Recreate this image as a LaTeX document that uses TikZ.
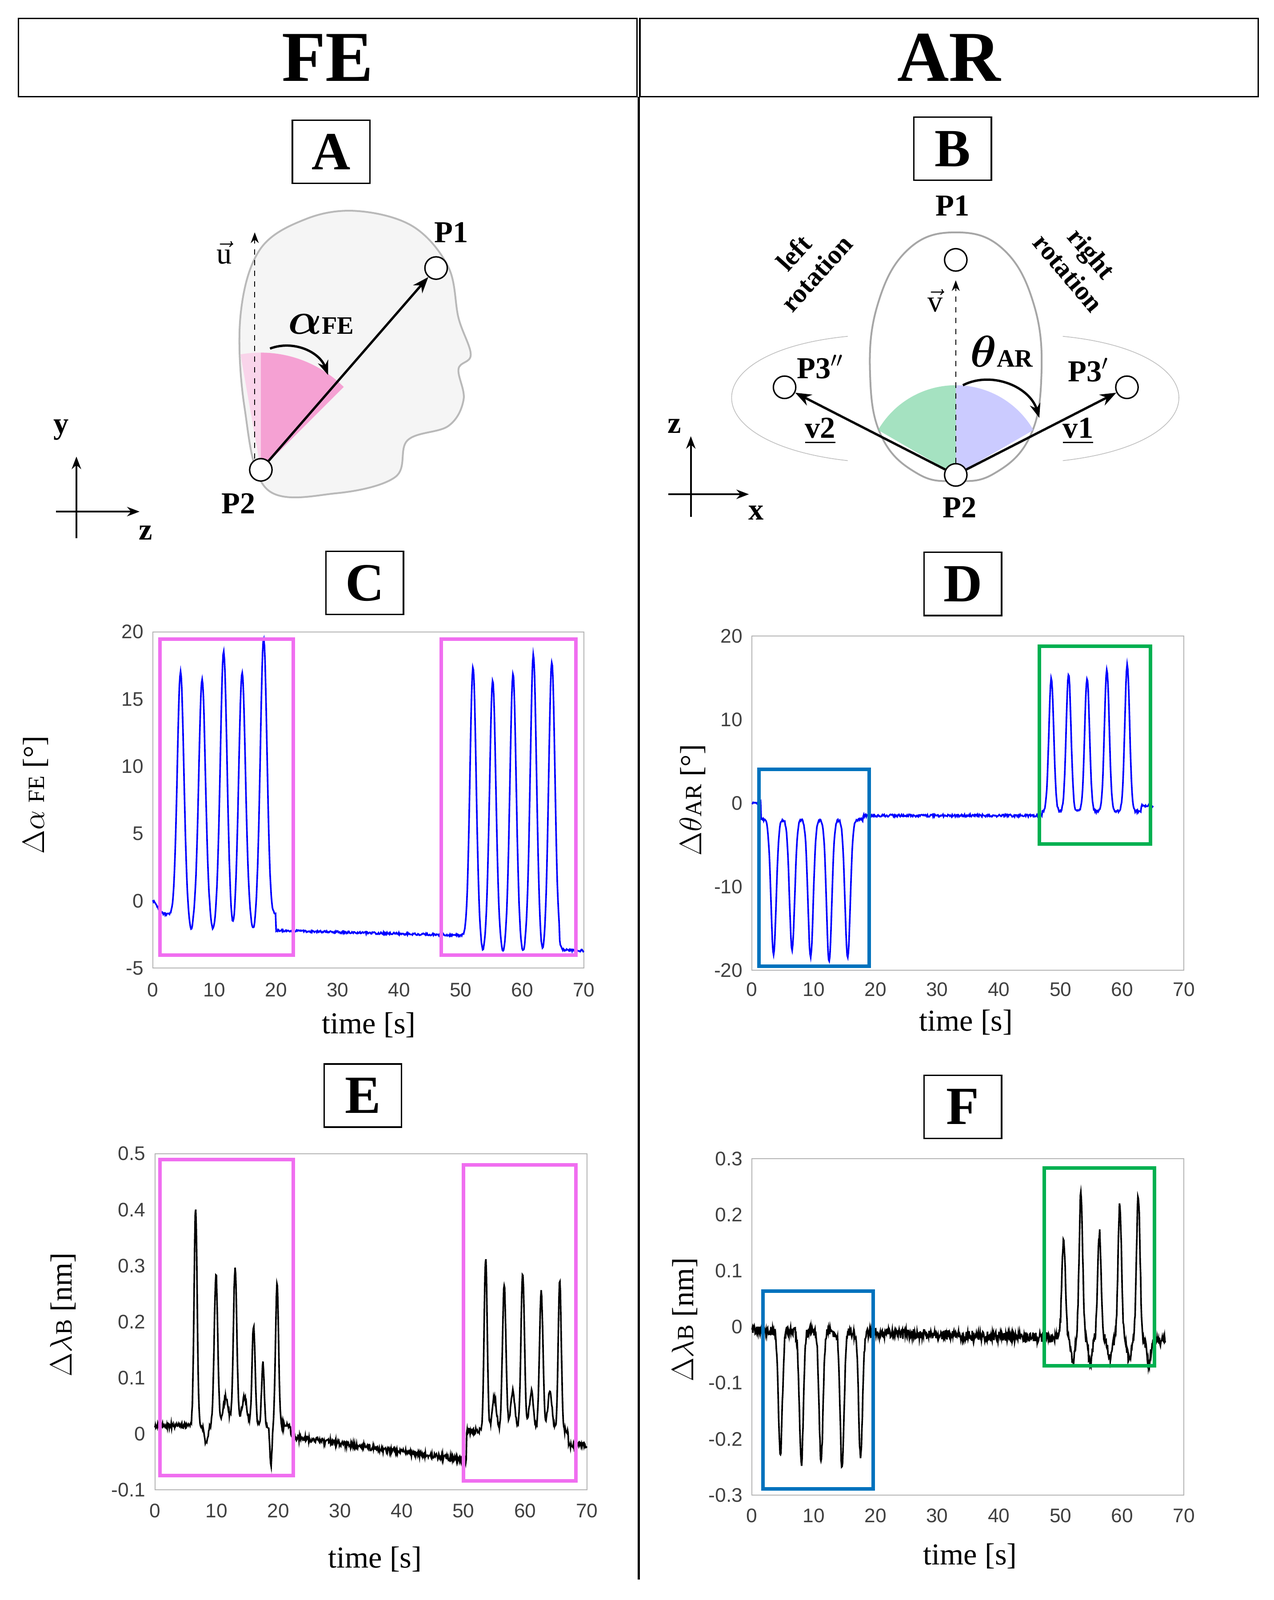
\documentclass[tikz,border=0pt]{standalone}
\usepackage{amsmath,amssymb}
\usepackage{bm}
\usepackage{fontspec}
\setmainfont{Liberation Serif}
\newfontfamily\tick{Liberation Sans}
\usetikzlibrary{arrows.meta}
\definecolor{pinkbox}{RGB}{240,110,240}
\definecolor{bluebox}{RGB}{0,114,189}
\definecolor{greenbox}{RGB}{0,176,80}
\definecolor{curve}{RGB}{0,0,255}
\tikzset{
  x=0.02cm, y=-0.02cm,
  declare function={G(\t,\c,\a,\w)=\a*exp(-(min(abs(\t-\c)/\w,5.5))^2);},
  hdr/.style={draw, thick, minimum width=607*0.02cm, minimum height=77*0.02cm, font=\bfseries\fontsize{40}{40}\selectfont, inner sep=0},
  lab/.style={draw, thick, minimum width=76*0.02cm, minimum height=62*0.02cm, font=\bfseries\fontsize{30}{30}\selectfont, inner sep=0},
  pt/.style={circle, draw, thick, fill=white, minimum size=22*0.02cm, inner sep=0},
  bt/.style={font=\bfseries\fontsize{17}{17}\selectfont},
  tk/.style={font=\tick\fontsize{11}{11}\selectfont, text=black!75},
  axl/.style={font=\fontsize{17}{17}\selectfont},
  frame/.style={draw=gray!60, line width=0.5pt},
  vec/.style={-{Stealth[length=9pt]}, line width=1.3pt},
}
\begin{document}
\begin{tikzpicture}
\fill[white] (0,0) rectangle (1250,1570);
\useasboundingbox (0,0) rectangle (1250,1570);
% headers
\node[hdr] (fe) at (321.5,56.5) {FE};
\node[hdr] (ar) at (931.5,56.5) {AR};
\draw[line width=1.3pt] (627,95) -- (627,1550);
% labels
\node[lab] (A) at (325,149) {A};
\node[lab] (B) at (935,146) {B};
\node[lab] (C) at (358,572) {C};
\node[lab] (D) at (945,573) {D};
\node[lab] (E) at (356,1075) {E};
\node[lab] (F) at (945,1086) {F};

% ---------- Panel A ----------
\filldraw[fill=gray!8, draw=gray!55, line width=1pt] plot[smooth cycle, tension=0.6] coordinates
 {(262,480) (240,400) (236,310) (255,245) (300,215) (350,207) (405,222) (440,262) (450,312) (462,348) (450,362) (455,392) (440,418) (400,432) (388,468) (330,484)};
\fill[magenta!45, opacity=0.8] (256,461) -- +(-90:115) arc[start angle=-90, end angle=-45, radius=115] -- cycle;
\fill[magenta!20, opacity=0.8] (256,461) -- +(-90:115) arc[start angle=-90, end angle=-100, radius=115] -- cycle;
\node[pt] (p2a) at (256,461) {};
\node[pt] (p1a) at (428,263) {};
\coordinate (ua) at (250,228);
\draw[dashed, -{Stealth[length=6pt]}] (250,450) -- (ua);
\draw[vec] (p2a) -- (p1a);
\node[bt] at (220,248) {$\vec{\mathrm{u}}$};
\node[bt] at (443,228) {P1};
\node[bt] at (234,494) {P2};
\node at (315,318) {\bfseries\fontsize{24}{24}\selectfont$\bm{\alpha}$\fontsize{14}{14}\selectfont FE};
\draw[-{Stealth[length=8pt]}, line width=1.3pt] (265,342) to[bend left=45] (322,368);
\draw[-{Stealth[length=7pt]}, line width=1pt] (75,528) -- (75,448);
\draw[-{Stealth[length=7pt]}, line width=1pt] (55,502) -- (137,502);
\node[bt] at (60,422) {y};
\node[bt] at (143,523) {z};

% ---------- Panel B ----------
\draw[gray!50] (832,330) .. controls (680,345) and (680,435) .. (832,452);
\draw[gray!50] (1043,330) .. controls (1195,345) and (1195,435) .. (1043,452);
\filldraw[fill=white, draw=gray!70, line width=1pt] plot[smooth cycle, tension=0.7] coordinates
 {(938,228) (985,245) (1015,300) (1022,370) (1010,430) (975,465) (938,472) (901,465) (866,430) (854,370) (861,300) (891,245)};
\fill[greenbox!50, opacity=0.7] (938,466) -- +(-90:88) arc[start angle=-90, end angle=-150, radius=88] -- cycle;
\fill[blue!25, opacity=0.8] (938,466) -- +(-90:88) arc[start angle=-90, end angle=-30, radius=88] -- cycle;
\node[pt] (p1b) at (938,255) {};
\node[pt] (p2b) at (938,466) {};
\node[pt] (p3b) at (770,380) {};
\node[pt] (p3pb) at (1106,380) {};
\coordinate (vb) at (938,275);
\draw[dashed, -{Stealth[length=6pt]}] (p2b) -- (vb);
\draw[vec] (p2b) -- (p3b);
\draw[vec] (p2b) -- (p3pb);
\draw[-{Stealth[length=8pt]}, line width=1.3pt] (945,378) to[bend left=50] (1020,410);
\node[bt] at (935,202) {P1};
\node[bt] at (918,295) {$\vec{\mathrm{v}}$};
\node at (983,345) {\bfseries\fontsize{24}{24}\selectfont$\bm{\theta}$\fontsize{14}{14}\selectfont AR};
\node[bt] at (805,360) {P3$''$};
\node[bt] at (1068,363) {P3$'$};
\node[bt] at (805,423) {\underline{v2}};
\node[bt] at (1058,423) {\underline{v1}};
\node[bt] at (942,498) {P2};
\node[font=\bfseries\fontsize{15}{17}\selectfont, rotate=48, align=center] at (790,258) {left\\rotation};
\node[font=\bfseries\fontsize{15}{17}\selectfont, rotate=-50, align=center] at (1060,258) {right\\rotation};
\draw[-{Stealth[length=7pt]}, line width=1pt] (678,507) -- (678,428);
\draw[-{Stealth[length=7pt]}, line width=1pt] (656,485) -- (735,485);
\node[bt] at (662,418) {z};
\node[bt] at (742,503) {x};

% ---------- Plot C ----------
\begin{scope}[shift={(150,884)}, xscale=6.043, yscale=-13.2]
\draw[frame] (0,-5) rectangle (70,20);
\foreach \v in {20,15,10,5,0,-5} \node[tk, anchor=east] at (-0.5,\v) {\v};
\foreach \t in {0,10,...,70} \node[tk] at (\t,-6.6) {\t};
\draw[curve, line width=0.9pt] plot[domain=0:70, samples=700] (\x, {(\x<20)*(-1) + (\x>=20)*(-2.2-0.012*(\x-20)) + (\x>66)*(-0.9)
 + G(\x,0,1,1) + G(\x,4.5,18,0.75) + G(\x,8,17.5,0.75) + G(\x,11.5,19.5,0.75) + G(\x,14.5,18,0.75) + G(\x,18,20.5,0.75)
 + G(\x,6.2,-1.2,0.5) + G(\x,9.8,-1.2,0.5) + G(\x,13,-1.2,0.5) + G(\x,16.3,-1.2,0.5)
 + G(\x,52,20,0.7) + G(\x,55.2,19,0.7) + G(\x,58.5,19.5,0.7) + G(\x,61.8,21,0.7) + G(\x,64.8,20.5,0.7)
 + G(\x,53.6,-1.2,0.5) + G(\x,56.9,-1.2,0.5) + G(\x,60.1,-1.2,0.5) + G(\x,63.3,-1.2,0.5)
 + 0.08*rand});
\end{scope}
\draw[pinkbox, line width=2pt] (157,627) rectangle (288,937);
\draw[pinkbox, line width=2pt] (433,627) rectangle (565,937);
\node[axl, rotate=90] at (35,780) {$\Delta\alpha$ {\fontsize{13}{13}\selectfont FE} [°]};
\node[axl] at (362,1006) {time [s]};

% ---------- Plot D ----------
\begin{scope}[shift={(738,788)}, xscale=6.057, yscale=-8.2]
\draw[frame] (0,-20) rectangle (70,20);
\foreach \v in {20,10,0,-10,-20} \node[tk, anchor=east] at (-0.5,\v) {\v};
\foreach \t in {0,10,...,70} \node[tk] at (\t,-22.3) {\t};
\draw[curve, line width=0.9pt] plot[domain=0:65, samples=650] (\x, {(\x<1.5)*0 + (\x>=1.5)*(\x<18)*(-2) + (\x>=18)*(\x<47)*(-1.5) + (\x>=47)*(\x<63)*(-1) + (\x>=63)*(-0.3)
 + G(\x,3.5,-16,0.6) + G(\x,6.5,-15.5,0.6) + G(\x,9.5,-16.5,0.6) + G(\x,12.5,-17,0.6) + G(\x,15.5,-16.5,0.6)
 + G(\x,48.5,16,0.55) + G(\x,51.3,16.5,0.55) + G(\x,54.3,16,0.55) + G(\x,57.5,17,0.55) + G(\x,60.8,17.5,0.55)
 + 0.15*rand});
\end{scope}
\draw[bluebox, line width=2pt] (745,755) rectangle (853,948);
\draw[greenbox, line width=2pt] (1020,634) rectangle (1129,828);
\node[axl, rotate=90] at (680,785) {$\Delta\theta${\fontsize{13}{13}\selectfont AR} [°]};
\node[axl] at (948,1003) {time [s]};

% ---------- Plot E ----------
\begin{scope}[shift={(152,1407)}, xscale=6.057, yscale=-550]
\draw[frame] (0,-0.1) rectangle (70,0.5);
\foreach \v in {0.5,0.4,0.3,0.2,0.1,0,-0.1} \node[tk, anchor=east] at (-0.5,\v) {\v};
\foreach \t in {0,10,...,70} \node[tk] at (\t,-0.137) {\t};
\draw[black, line width=0.9pt] plot[domain=0:70, samples=900] (\x, {(\x<22)*0.015 + (\x>=22)*(\x<50.5)*(-0.005-0.0015*(\x-22)) + (\x>=50.5)*(\x<67)*0.005 + (\x>=67)*(-0.02)
 + G(\x,6.6,0.39,0.35) + G(\x,9.9,0.27,0.4) + G(\x,13,0.28,0.4) + G(\x,16,0.18,0.35) + G(\x,17.5,0.11,0.3) + G(\x,19.8,0.25,0.35)
 + G(\x,8.3,-0.03,0.4) + G(\x,18.8,-0.07,0.25) + G(\x,11.5,0.05,0.6) + G(\x,14.5,0.05,0.6)
 + G(\x,53.6,0.31,0.35) + G(\x,56.6,0.26,0.4) + G(\x,59.6,0.28,0.4) + G(\x,62.6,0.25,0.4) + G(\x,65.6,0.27,0.35)
 + G(\x,55,0.06,0.5) + G(\x,58,0.07,0.5) + G(\x,61,0.07,0.5) + G(\x,64,0.07,0.5)
 + 0.005*rand});
\end{scope}
\draw[pinkbox, line width=2pt] (157,1138) rectangle (288,1448);
\draw[pinkbox, line width=2pt] (455,1143) rectangle (565,1453);
\node[axl, rotate=90] at (62,1290) {$\Delta\lambda${\fontsize{13}{13}\selectfont B} [nm]};
\node[axl] at (368,1530) {time [s]};

% ---------- Plot F ----------
\begin{scope}[shift={(738,1302)}, xscale=6.057, yscale=-550]
\draw[frame] (0,-0.3) rectangle (70,0.3);
\foreach \v in {0.3,0.2,0.1,0,-0.1,-0.2,-0.3} \node[tk, anchor=east] at (-0.5,\v) {\v};
\foreach \t in {0,10,...,70} \node[tk] at (\t,-0.337) {\t};
\draw[black, line width=0.9pt] plot[domain=0:67, samples=900] (\x, {-0.005 - 0.0003*\x
 + G(\x,4.6,-0.22,0.45) + G(\x,8,-0.24,0.45) + G(\x,11.2,-0.23,0.45) + G(\x,14.6,-0.245,0.45) + G(\x,17.6,-0.22,0.45)
 + G(\x,50.5,0.18,0.4) + G(\x,53.3,0.26,0.4) + G(\x,56.3,0.19,0.4) + G(\x,59.6,0.24,0.4) + G(\x,62.6,0.26,0.4)
 + G(\x,52,-0.04,0.4) + G(\x,54.8,-0.045,0.4) + G(\x,58,-0.035,0.4) + G(\x,61.1,-0.035,0.4) + G(\x,64.3,-0.04,0.4)
 + 0.009*rand});
\end{scope}
\draw[bluebox, line width=2pt] (749,1267) rectangle (857,1461);
\draw[greenbox, line width=2pt] (1025,1146) rectangle (1133,1340);
\node[axl, rotate=90] at (672,1295) {$\Delta\lambda${\fontsize{13}{13}\selectfont B} [nm]};
\node[axl] at (952,1527) {time [s]};
\end{tikzpicture}
\end{document}
